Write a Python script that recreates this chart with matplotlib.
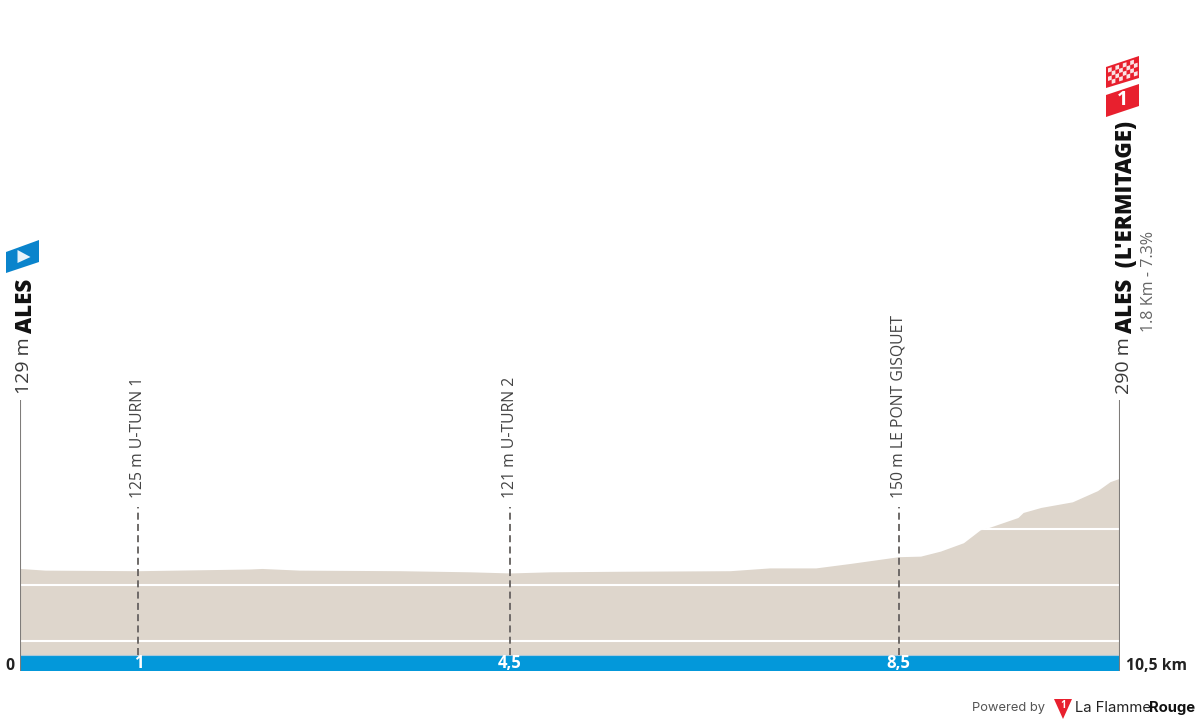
#!/usr/bin/env python3
import matplotlib
matplotlib.use("Agg")
import matplotlib.pyplot as plt
from matplotlib.patches import Polygon

# profile
km = [0, 0.24, 1.13, 2.19, 2.31, 2.67, 3.63, 4.30, 4.68, 4.87, 5.06, 5.73, 6.78, 7.16,
      7.60, 7.93, 8.39, 8.60, 8.79, 9.01, 9.17, 9.25, 9.53, 9.58, 9.75, 10.05, 10.29, 10.41, 10.5]
elev = [129, 126, 125, 128, 129, 126, 125, 123, 121, 122, 123, 124, 125, 130,
        130, 138, 150, 151, 160, 175, 198, 202, 220, 229, 238, 248, 268, 284, 290]
grid_levels = [0, 100, 200]

marker_km = [1.13, 4.68, 8.39]
marker_labels = ["125 m U-TURN 1", "121 m U-TURN 2", "150 m LE PONT GISQUET"]
marker_ticks = ["1", "4,5", "8,5"]

FONT = "Open Sans"
W, H = 1200, 725
SAND = "#DED6CC"
BLUE = "#0398DA"
RED = "#E8202E"
GREY = "#7F7C7A"
TEXT = "#444444"

# scale of the drawing, in pixels
PX_LEFT, PX_RIGHT = 20, 1119.5
PX_ZERO, PX_PER_M = 640.7, 0.56
PX_BASE, PX_BAR = 655, 671
ELEV_BASE = (PX_ZERO - PX_BASE) / PX_PER_M
ELEV_BAR = (PX_ZERO - PX_BAR) / PX_PER_M
ELEV_TOP = PX_ZERO / PX_PER_M


def vtext(ax, x, y, s, size, color=TEXT, weight="normal"):
    ax.text(x, y, s, rotation=90, ha="center", va="bottom", fontsize=size,
            color=color, fontweight=weight, family=FONT)


fig = plt.figure(figsize=(W / 100, H / 100), dpi=100, facecolor="white")
ax = fig.add_axes([PX_LEFT / W, 0, (PX_RIGHT - PX_LEFT) / W, 1])
ax.set_xlim(0, 10.5)
ax.set_ylim((PX_ZERO - H) / PX_PER_M, ELEV_TOP)
ax.axis("off")

# overlay in pixels for labels and flags
ov = fig.add_axes([0, 0, 1, 1], facecolor="none")
ov.set_xlim(0, W)
ov.set_ylim(H, 0)
ov.axis("off")

area = ax.fill_between(km, elev, ELEV_BASE, color=SAND, lw=0, zorder=1)
for lev in grid_levels:
    ln = ax.plot([0, 10.5], [lev, lev], color="white", lw=1.5, zorder=2, solid_capstyle="butt")[0]
    ln.set_clip_path(area.get_paths()[0], ax.transData)

ax.fill_between([0, 10.5], ELEV_BASE, ELEV_BAR, color=BLUE, lw=0, zorder=3)
ax.plot([0, 10.5], [ELEV_BASE, ELEV_BASE], color="#A8C8DA", lw=0.8, zorder=3)

# start and finish posts
for x in (0, 10.5):
    ax.plot([x, x], [ELEV_BAR, (PX_ZERO - 400) / PX_PER_M], color=GREY, lw=1.5,
            zorder=4, solid_capstyle="butt")

# intermediate markers
for x, lab, tick in zip(marker_km, marker_labels, marker_ticks):
    ax.plot([x, x], [ELEV_BASE, (PX_ZERO - 507) / PX_PER_M], color="#6E6A68", lw=1.4,
            ls=(0, (3.6, 2.2)), zorder=4)
    px = PX_LEFT + x / 10.5 * (PX_RIGHT - PX_LEFT)
    vtext(ov, px, 498, lab, 11.3)
    ov.text(px, 663, tick, ha="center", va="center", color="white", fontsize=12,
            fontweight="bold", family=FONT)

# start / finish labels
vtext(ov, 24, 394, "129 m", 14, color="#3A3A3A")
vtext(ov, 26, 333, "ALES", 16, color="#111111", weight=800)
vtext(ov, 1124, 394, "290 m", 14, color="#3A3A3A")
vtext(ov, 1126, 333, "ALES  (L'ERMITAGE)", 16, color="#111111", weight=800)
vtext(ov, 1149, 332, "1.8 Km - 7.3%", 11.6, color="#666666")

# start flag
ov.add_patch(Polygon([(6, 252), (39, 240), (39, 262), (6, 273)], fc="#0A84CC", ec="none"))
ov.add_patch(Polygon([(17.5, 250), (30.5, 257), (17.5, 263)], fc="#E8F3FA", ec="none"))

# finish flags
ov.add_patch(Polygon([(1106, 67), (1139, 56), (1139, 78), (1106, 88)], fc=RED, ec="none"))
ov.add_patch(Polygon([(1106, 95), (1139, 84), (1139, 106), (1106, 117)], fc=RED, ec="none"))
ov.text(1122.5, 100, "1", ha="center", va="center", color="white", fontsize=14,
        fontweight="bold", family=FONT)
for i in range(8):
    for j in range(4):
        if (i + j) % 2 == 0:
            cx = 1108 + i * 3.7
            cy = 69 + j * 4.2 - (cx - 1106) / 3
            ov.add_patch(Polygon([(cx, cy), (cx + 3.7, cy - 1.2), (cx + 3.7, cy + 3), (cx, cy + 4.2)],
                                 fc="#FBE3E5", ec="none"))

# axis ends
ov.text(5, 666, "0", ha="left", va="center", fontsize=11.3, fontweight="bold",
        color="#222222", family=FONT)
ov.text(1126, 666, "10,5 km", ha="left", va="center", fontsize=11.3, fontweight="bold",
        color="#222222", family=FONT)

# credit
ov.text(972, 708, "Powered by", ha="left", va="center", fontsize=9.3, color="#555555", family="Inter")
ov.add_patch(Polygon([(1054, 699), (1072, 699), (1063, 719)], fc=RED, ec="none"))
ov.text(1063, 705, "1", ha="center", va="center", fontsize=7, color="white", fontweight="bold", family=FONT)
ov.text(1075, 708, "La Flamme", ha="left", va="center", fontsize=10.7, color="#222222", family="Inter")
ov.text(1149, 708, "Rouge", ha="left", va="center", fontsize=10.7, color="#111111",
        fontweight="bold", family="Inter")

fig.savefig("out.png", dpi=100)
